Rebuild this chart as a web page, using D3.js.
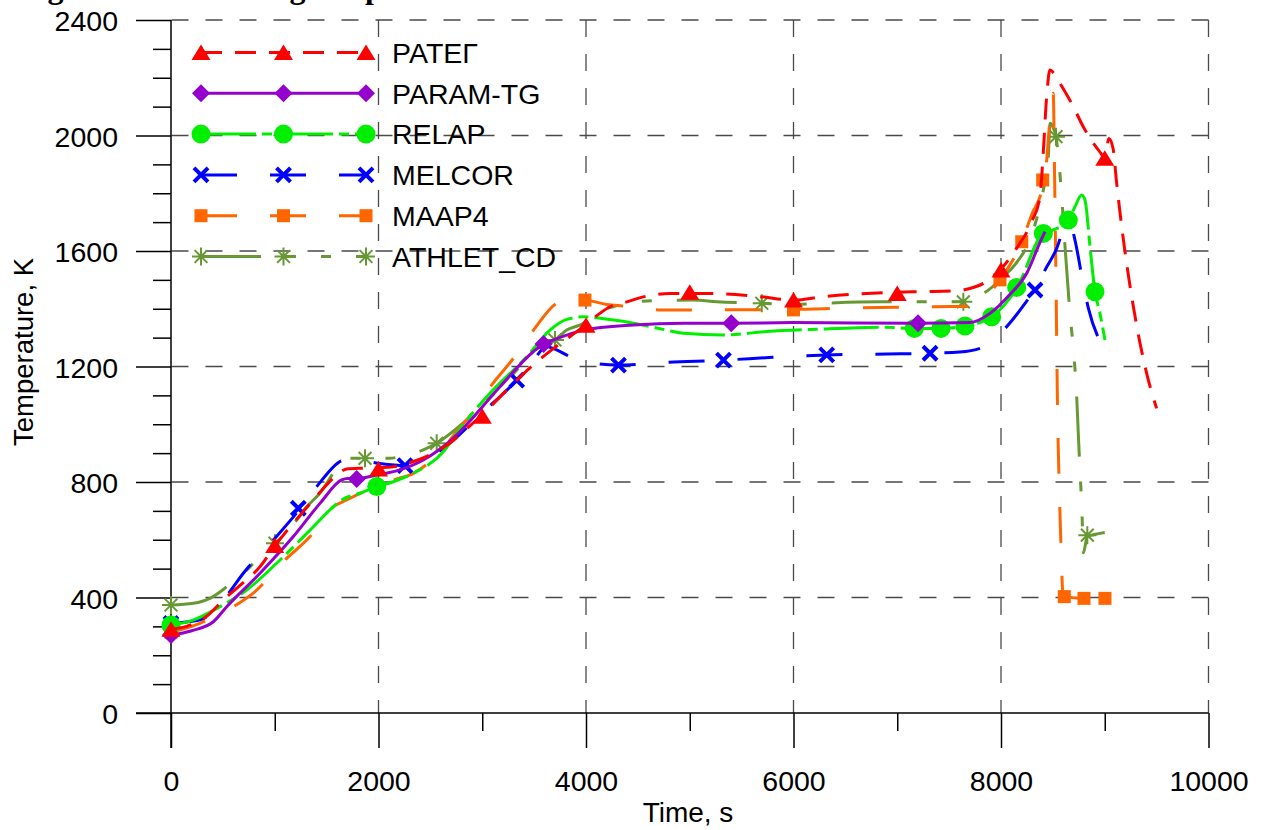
<!DOCTYPE html>
<html>
<head>
<meta charset="utf-8">
<script src="https://cdn.jsdelivr.net/npm/d3@7"></script>
<style>
  html, body { margin: 0; padding: 0; background: #fff; }
  svg { display: block; }
  .axis text, .lbl { font-family: "Liberation Sans", Arial, sans-serif; fill: #000; }
</style>
</head>
<body>
<svg id="chart" width="1270" height="830"></svg>
<script>
// ---- Axis ticks ----
const xMajorTicks = [0, 2000, 4000, 6000, 8000, 10000];
const xMinorTicks = [1000, 3000, 5000, 7000, 9000];
const yMajorTicks = [0, 400, 800, 1200, 1600, 2000, 2400];
const yMinorTicks = [100, 200, 300, 500, 600, 700, 900, 1000, 1100, 1300, 1400, 1500,
                     1700, 1800, 1900, 2100, 2200, 2300];
const xGridTicks = [2000, 4000, 6000, 8000, 10000];
const yGridTicks = [400, 800, 1200, 1600, 2000, 2400];

// ---- Series: [time s, temperature K] ----
const seriesNames = ["РАТЕГ", "PARAM-TG", "RELAP", "MELCOR", "MAAP4", "ATHLET_CD"];

const rategCurve = [[0,290],[150,300],[344,335],[500,390],[649,437],[858,507],[1000,578],[1083,616],[1273,697],
  [1450,770],[1600,825],[1693,845],[1853,848],[2000,850],[2141,853],[2330,870],[2500,895],[2689,935],
  [2850,985],[2980,1026],[3240,1120],[3490,1205],[3685,1262],[3850,1305],[3975,1338],[4100,1375],
  [4231,1407],[4392,1424],[4600,1445],[4810,1453],[5195,1453],[5677,1442],[6000,1430],[6284,1442],
  [6706,1453],[7187,1459],[7573,1462],[7700,1470],[7830,1488],[7990,1534],[8151,1610],[8296,1702],
  [8376,1788],[8405,1927],[8440,2134],[8472,2227],[8520,2210],[8568,2181],[8697,2100],[8793,2030],
  [8890,1973],[8960,1940],[9000,1921],[9040,1990],[9080,1955],[9115,1834],[9180,1638],[9276,1407],
  [9404,1176],[9500,1055]];
const rategMarks = [[0,290],[1000,580],[2000,845],[3000,1028],[4000,1343],[5000,1457],[6000,1430],
  [7000,1453],[8000,1534],[9000,1921]];

const paramCurve = [[0,270],[200,285],[408,316],[537,368],[858,484],[1179,611],[1436,726],[1645,807],
  [1700,812],[1790,812],[1983,824],[2207,842],[2432,876],[2700,945],[3171,1130],[3494,1252],
  [3591,1278],[3687,1292],[3976,1326],[4458,1344],[4940,1350],[5400,1350],[6000,1352],[7200,1350],
  [7701,1352],[7894,1384],[8087,1450],[8248,1523],[8376,1630],[8424,1667]];
const paramMarks = [[0,270],[1790,810],[3591,1278],[5400,1350],[7200,1350]];

const relapCurve = [[0,305],[200,320],[472,368],[730,426],[1051,530],[1372,645],[1563,714],[1645,738],
  [1822,761],[1983,784],[2143,801],[2336,830],[2625,905],[2786,985],[3043,1095],[3428,1234],
  [3653,1326],[3814,1363],[3976,1372],[4137,1367],[4458,1350],[4778,1326],[4939,1315],[5325,1309],
  [5742,1321],[6224,1329],[6867,1336],[7165,1332],[7422,1332],[7653,1340],[7910,1372],[8151,1471],
  [8408,1661],[8504,1673],[8649,1707],[8713,1753],[8777,1794],[8810,1776],[8858,1615],[8906,1459],
  [8954,1384],[9002,1292]];
const relapMarks = [[0,305],[1983,784],[7165,1332],[7422,1332],[7653,1340],[7910,1372],[8151,1474],
  [8408,1661],[8649,1707],[8906,1459]];

const melcorCurve = [[0,310],[150,315],[300,325],[450,370],[553,414],[697,484],[986,599],[1227,700],
  [1404,784],[1661,876],[1750,880],[2000,865],[2255,857],[2400,870],[2600,910],[3000,1040],
  [3332,1153],[3500,1225],[3620,1269],[3700,1260],[3846,1234],[4000,1215],[4313,1205],[4800,1215],
  [5325,1222],[5800,1232],[6320,1240],[6900,1243],[7316,1246],[7600,1250],[7798,1263],[8055,1338],
  [8280,1442],[8328,1465],[8424,1534],[8537,1609],[8620,1690],[8660,1700],[8713,1638],[8777,1517],
  [8842,1402],[8954,1286],[9002,1251]];
const melcorMarks = [[0,310],[1227,709],[2255,857],[3332,1153],[4313,1205],[5325,1222],[6320,1240],
  [7316,1246],[8328,1465]];

const maapCurve = [[0,280],[200,300],[400,330],[600,368],[793,415],[1099,530],[1340,611],[1564,714],
  [1693,738],[1850,765],[2143,807],[2336,830],[2657,930],[2753,975],[2914,1043],[3091,1136],
  [3300,1228],[3494,1326],[3718,1419],[3850,1432],[3990,1430],[4200,1415],[4360,1409],[4697,1396],
  [5034,1396],[6000,1398],[6500,1402],[7000,1405],[7364,1407],[7701,1408],[7850,1440],[7990,1500],
  [8200,1632],[8300,1730],[8392,1811],[8402,1846],[8424,1869],[8504,2146],[8515,1900],[8530,1500],
  [8545,1050],[8560,800],[8580,560],[8595,420],[8610,403],[8800,397],[9002,397]];
const maapMarks = [[0,280],[3990,1430],[6000,1396],[7990,1500],[8200,1632],[8402,1846],[8610,403],
  [8800,397],[9002,397]];

const athletCurve = [[0,374],[215,380],[376,397],[537,437],[730,495],[793,518],[1002,588],[1212,668],
  [1308,714],[1420,755],[1645,865],[1725,882],[1870,882],[2111,882],[2207,888],[2432,911],[2561,934],
  [2851,1015],[3300,1175],[3557,1269],[3701,1292],[3814,1326],[3976,1350],[4103,1390],[4264,1407],
  [4424,1424],[5034,1430],[5260,1424],[5694,1419],[6000,1415],[6272,1419],[6850,1424],[7637,1424],
  [7774,1448],[7823,1453],[8022,1511],[8150,1560],[8280,1640],[8350,1720],[8408,1811],[8456,1927],
  [8472,2042],[8500,2030],[8530,1996],[8578,1823],[8620,1600],[8665,1384],[8700,1250],[8729,1100],
  [8745,968],[8760,850],[8780,700],[8794,555],[8832,612],[8900,618],[9000,625]];
const athletMarks = [[0,374],[1002,588],[1870,882],[2561,934],[3701,1292],[5694,1419],[7637,1424],
  [8530,1996],[8832,616]];

// ---- Styling of each series ----
const seriesColors = ["#ff0000", "#9400cc", "#00ee00", "#0000ff", "#ff6600", "#669933"];
const seriesDashes = ["21,13", null, "55,6,10,6", "36,33", "36,33", "60,25,10,25,10,25"];
const seriesMarkers = ["triangle", "diamond", "circle", "cross", "square", "star"];
const seriesCurves = [rategCurve, paramCurve, relapCurve, melcorCurve, maapCurve, athletCurve];
const seriesMarks = [rategMarks, paramMarks, relapMarks, melcorMarks, maapMarks, athletMarks];

const svg = d3.select("#chart");

const x = d3.scaleLinear().domain([0, 10000]).range([171, 1208.5]);
const y = d3.scaleLinear().domain([0, 2400]).range([713, 20]);

// Title line sitting just above the canvas edge
svg.append("text")
  .attr("x", 19).attr("y", -2)
  .attr("font-family", "'Liberation Serif', 'Times New Roman', serif")
  .attr("font-weight", "bold").attr("font-size", 32)
  .text("Fig. 10. The cladding temperature");

// ---- Grid ----
const grid = svg.append("g").attr("stroke", "#4a4a4a").attr("stroke-width", 1.3)
  .attr("stroke-dasharray", "17,17").attr("fill", "none");
grid.selectAll("line.h").data(yGridTicks).join("line").attr("class", "h")
  .attr("x1", x(0) + 0.5).attr("x2", x(10000))
  .attr("y1", d => y(d)).attr("y2", d => y(d));
grid.selectAll("line.v").data(xGridTicks).join("line").attr("class", "v")
  .attr("x1", d => x(d)).attr("x2", d => x(d))
  .attr("y1", y(2400)).attr("y2", y(0));

// ---- Axes ----
const fontSize = 28.5;
const xAxis = svg.append("g").attr("class", "axis").attr("transform", `translate(0,${y(0)})`)
  .call(d3.axisBottom(x).tickValues(xMajorTicks).tickSize(35).tickSizeOuter(0).tickPadding(23)
        .tickFormat(d3.format("d")));
const xMinor = svg.append("g").attr("class", "axis").attr("transform", `translate(0,${y(0)})`)
  .call(d3.axisBottom(x).tickValues(xMinorTicks).tickSize(18).tickSizeOuter(0).tickFormat(""));
const yAxis = svg.append("g").attr("class", "axis").attr("transform", `translate(${x(0)},0)`)
  .call(d3.axisLeft(y).tickValues(yMajorTicks).tickSize(35).tickSizeOuter(0).tickPadding(18)
        .tickFormat(d3.format("d")));
const yMinor = svg.append("g").attr("class", "axis").attr("transform", `translate(${x(0)},0)`)
  .call(d3.axisLeft(y).tickValues(yMinorTicks).tickSize(18).tickSizeOuter(0).tickFormat(""));

[xAxis, xMinor, yAxis, yMinor].forEach(g => {
  g.select(".domain").remove();
  g.selectAll(".tick line").attr("stroke", "#000").attr("stroke-width", 1.5);
  g.selectAll(".tick text").attr("font-size", fontSize).attr("font-family", "'Liberation Sans', Arial, sans-serif");
});
yAxis.selectAll(".tick text").attr("dy", "0.38em");

// axis lines
svg.append("line").attr("x1", x(0) - 35).attr("x2", x(10000)).attr("y1", y(0)).attr("y2", y(0))
  .attr("stroke", "#000").attr("stroke-width", 1.5);
svg.append("line").attr("x1", x(0)).attr("x2", x(0)).attr("y1", y(2400)).attr("y2", y(0) + 35)
  .attr("stroke", "#000").attr("stroke-width", 1.5);

// axis titles
svg.append("text").attr("class", "lbl").attr("x", 688).attr("y", 822)
  .attr("text-anchor", "middle").attr("font-size", 28).text("Time, s");
svg.append("text").attr("class", "lbl")
  .attr("transform", "translate(33,352) rotate(-90)")
  .attr("text-anchor", "middle").attr("font-size", 27.5).text("Temperature, K");

// ---- Marker drawing ----
function drawMarker(g, kind, color, cx, cy) {
  const m = g.append("g").attr("transform", `translate(${cx},${cy})`);
  switch (kind) {
    case "triangle":
      m.append("path").attr("d", "M0,-8L9.5,7.5L-9.5,7.5Z").attr("fill", color); break;
    case "diamond":
      m.append("path").attr("d", "M0,-9L9,0L0,9L-9,0Z").attr("fill", color); break;
    case "circle":
      m.append("circle").attr("r", 9.5).attr("fill", color); break;
    case "square":
      m.append("rect").attr("x", -6.5).attr("y", -6.5).attr("width", 13).attr("height", 13).attr("fill", color); break;
    case "cross":
      m.append("path").attr("d", "M-7,-7L7,7M-7,7L7,-7").attr("stroke", color)
        .attr("stroke-width", 4).attr("fill", "none"); break;
    case "star":
      m.append("path").attr("d", "M0,-9V9M-9,0H9M-6.4,-6.4L6.4,6.4M-6.4,6.4L6.4,-6.4")
        .attr("stroke", color).attr("stroke-width", 2).attr("fill", "none"); break;
  }
}

const line = d3.line().x(d => x(d[0])).y(d => y(d[1])).curve(d3.curveMonotoneX);

// ---- Plot series (last in legend drawn first) ----
const plot = svg.append("g");
for (let i = seriesNames.length - 1; i >= 0; i--) {
  const g = plot.append("g");
  g.append("path").datum(seriesCurves[i]).attr("d", line)
    .attr("fill", "none").attr("stroke", seriesColors[i]).attr("stroke-width", 3)
    .attr("stroke-linejoin", "round")
    .attr("stroke-dasharray", seriesDashes[i]);
  seriesMarks[i].forEach(p => drawMarker(g, seriesMarkers[i], seriesColors[i], x(p[0]), y(p[1])));
}

// ---- Legend ----
const legend = svg.append("g");
const legX0 = 201, legX1 = 366, legY0 = 52.5, legStep = 40.8;
seriesNames.forEach((name, i) => {
  const yy = legY0 + i * legStep;
  const g = legend.append("g");
  g.append("line").attr("x1", legX0).attr("x2", legX1).attr("y1", yy).attr("y2", yy)
    .attr("stroke", seriesColors[i]).attr("stroke-width", 3)
    .attr("stroke-dasharray", seriesDashes[i]);
  [legX0, (legX0 + legX1) / 2, legX1].forEach(mx => drawMarker(g, seriesMarkers[i], seriesColors[i], mx, yy));
  g.append("text").attr("class", "lbl").attr("x", 392).attr("y", yy + 10.2)
    .attr("font-size", fontSize).text(name);
});
</script>
</body>
</html>
